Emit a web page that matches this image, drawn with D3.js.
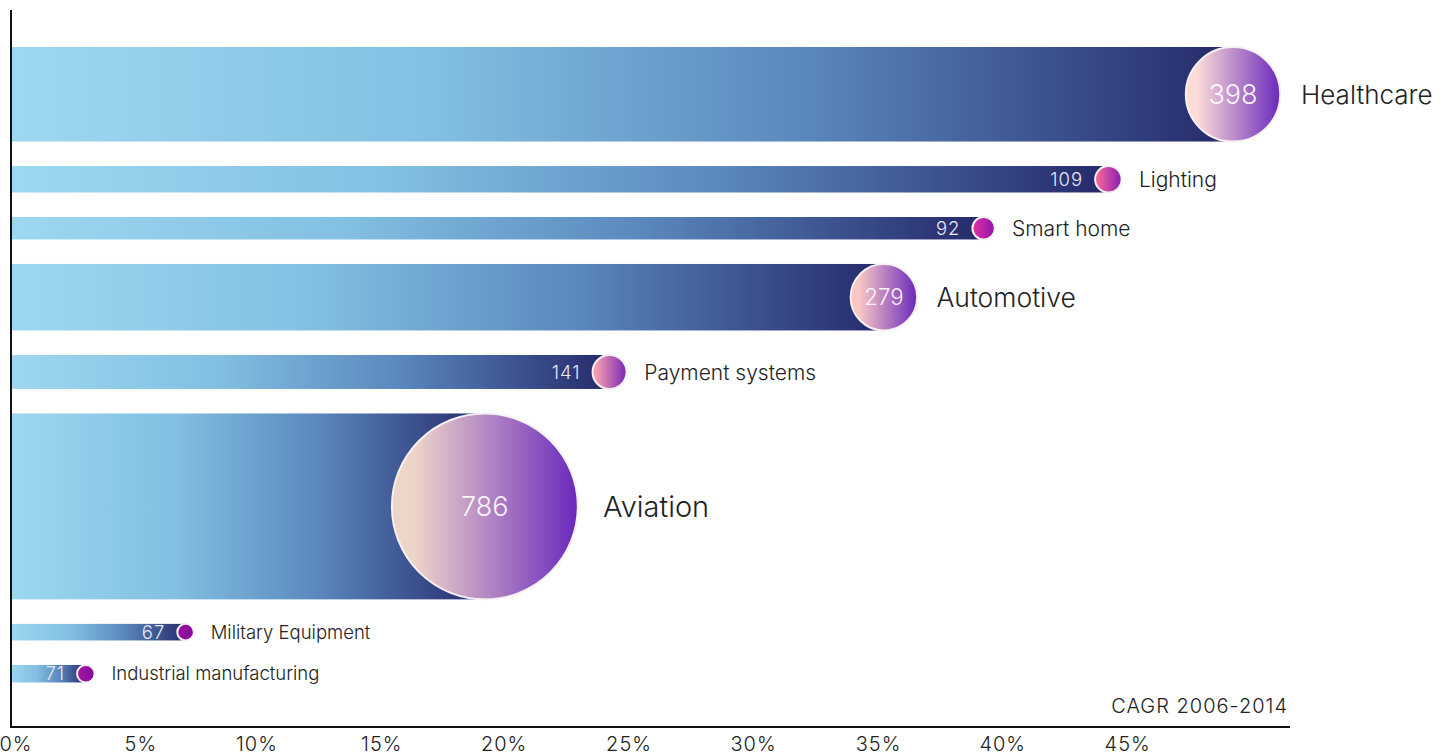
<!DOCTYPE html>
<html>
<head>
<meta charset="utf-8">
<script src="https://cdn.jsdelivr.net/npm/d3@7"></script>
<style>
  html, body { margin: 0; padding: 0; background: #ffffff; }
  svg { display: block; font-family: Inter, Roboto, "Open Sans", "DejaVu Sans", sans-serif; }
</style>
</head>
<body>
<svg id="chart" width="1450" height="755"></svg>
<script>
// ---- data ----
const categories = ["Healthcare", "Lighting", "Smart home", "Automotive", "Payment systems", "Aviation", "Military Equipment", "Industrial manufacturing"];
const cagrValues = [49, 44, 39, 35, 24, 19, 7, 3];           // % CAGR 2006-2014
const marketValues = [398, 109, 92, 279, 141, 786, 67, 71];  // value shown in bubble
const tickValues = [0, 5, 10, 15, 20, 25, 30, 35, 40, 45];
const tickLabels = ["0%", "5%", "10%", "15%", "20%", "25%", "30%", "35%", "40%", "45%"];
const footnote = "CAGR 2006-2014";

// ---- layout ----
const svg = d3.select("#chart");
const x = d3.scaleLinear().domain([0, 50]).range([11, 1258]);
const hScale = d3.scaleLinear().domain([0, 786]).range([0.8, 185.9]);
const plotTop = 47, gap = 24.5;

const rows = categories.map((c, i) => ({ name: c, cagr: cagrValues[i], value: marketValues[i], h: hScale(marketValues[i]) }));
let cursor = plotTop;
rows.forEach(d => { d.y = cursor; cursor += d.h + gap; d.r = d.h / 2; d.cy = d.y + d.r; d.cx = x(d.cagr); });

// colour scales for bubbles (by radius)
const startColor = d3.scaleLinear()
  .domain([8, 11, 13, 17.5, 33, 47, 93])
  .range(["#960c9e", "#d42aa0", "#f0609a", "#f5a2b4", "#fac8c4", "#fcdcd8", "#eed5c9"])
  .interpolate(d3.interpolateRgb).clamp(true);
const endColor = d3.scaleLinear()
  .domain([8, 11, 13, 17.5, 33])
  .range(["#7c0a9a", "#9212b0", "#861cb4", "#7628b6", "#6a28bc"])
  .interpolate(d3.interpolateRgb).clamp(true);
const innerFont = d3.scaleLinear().domain([30, 46]).range([21, 27]).clamp(true);
const labelFont = d3.scaleLinear().domain([71, 92, 150, 279, 398, 786]).range([18.5, 21, 21, 26.5, 26, 29]).clamp(true);

const defs = svg.append("defs");
const barGrad = defs.append("linearGradient").attr("id", "barGrad").attr("x1", 0).attr("x2", 1).attr("y1", 0).attr("y2", 0);
[[0, "#9dd8f1"], [0.35, "#82bfe1"], [0.65, "#5a88bd"], [1, "#25296a"]].forEach(s =>
  barGrad.append("stop").attr("offset", s[0]).attr("stop-color", s[1]));

rows.forEach((d, i) => {
  const g = defs.append("linearGradient").attr("id", "bub" + i).attr("x1", 0).attr("x2", 1).attr("y1", 0).attr("y2", 0);
  g.append("stop").attr("offset", 0.12).attr("stop-color", startColor(d.r));
  g.append("stop").attr("offset", 1).attr("stop-color", endColor(d.r));
});

// bars
svg.append("g").selectAll("rect").data(rows).join("rect")
  .attr("x", x(0) - 1)
  .attr("y", d => d.y)
  .attr("width", d => d.cx - x(0) + 1)
  .attr("height", d => d.h)
  .attr("fill", "url(#barGrad)");

// bubbles
svg.append("g").selectAll("circle").data(rows).join("circle")
  .attr("cx", d => d.cx)
  .attr("cy", d => d.cy)
  .attr("r", d => d.r)
  .attr("fill", (d, i) => `url(#bub${i})`)
  .attr("stroke", "#f4f0f4")
  .attr("stroke-width", 2);

// value labels
svg.append("g").selectAll("text").data(rows).join("text")
  .attr("x", d => d.r >= 30 ? d.cx : d.cx - d.r - 12)
  .attr("y", d => d.cy)
  .attr("dy", "0.36em")
  .attr("text-anchor", d => d.r >= 30 ? "middle" : "end")
  .attr("font-size", d => d.r >= 30 ? innerFont(d.r) : 18.5)
  .attr("letter-spacing", d => d.r >= 30 ? 0 : 1)
  .attr("font-weight", 300)
  .attr("fill", d => d.r >= 30 ? "rgba(255,255,255,0.92)" : "#e6e9f2")
  .text(d => d.value);

// category labels
svg.append("g").selectAll("text").data(rows).join("text")
  .attr("x", d => d.cx + d.r + 16 + d.r * 0.1)
  .attr("y", d => d.cy)
  .attr("dy", "0.36em")
  .attr("font-size", d => labelFont(d.value))
  .attr("font-weight", 300)
  .attr("fill", "#222")
  .text(d => d.name);

// axes lines
svg.append("line").attr("x1", 11).attr("x2", 11).attr("y1", 10).attr("y2", 728)
  .attr("stroke", "#111").attr("stroke-width", 2);
svg.append("line").attr("x1", 10).attr("x2", 1290).attr("y1", 727).attr("y2", 727)
  .attr("stroke", "#111").attr("stroke-width", 2);

// x axis labels
const axis = d3.axisBottom(x).tickValues(tickValues).tickSize(0)
  .tickFormat((d, i) => tickLabels[i]);
const ag = svg.append("g").attr("transform", "translate(0,727)").call(axis);
ag.select(".domain").remove();
ag.selectAll("text")
  .attr("text-anchor", "end")
  .attr("dx", d => d < 10 ? 21 : 17)
  .attr("y", 24)
  .attr("dy", 0)
  .attr("font-size", 20)
  .attr("letter-spacing", 1)
  .attr("font-weight", 300)
  .attr("font-family", "Inter, Roboto, 'Open Sans', sans-serif")
  .attr("fill", "#222");

// footnote
svg.append("text").attr("x", 1288).attr("y", 713).attr("text-anchor", "end")
  .attr("font-size", 20).attr("letter-spacing", 1).attr("font-weight", 300).attr("fill", "#222")
  .text(footnote);
</script>
</body>
</html>
